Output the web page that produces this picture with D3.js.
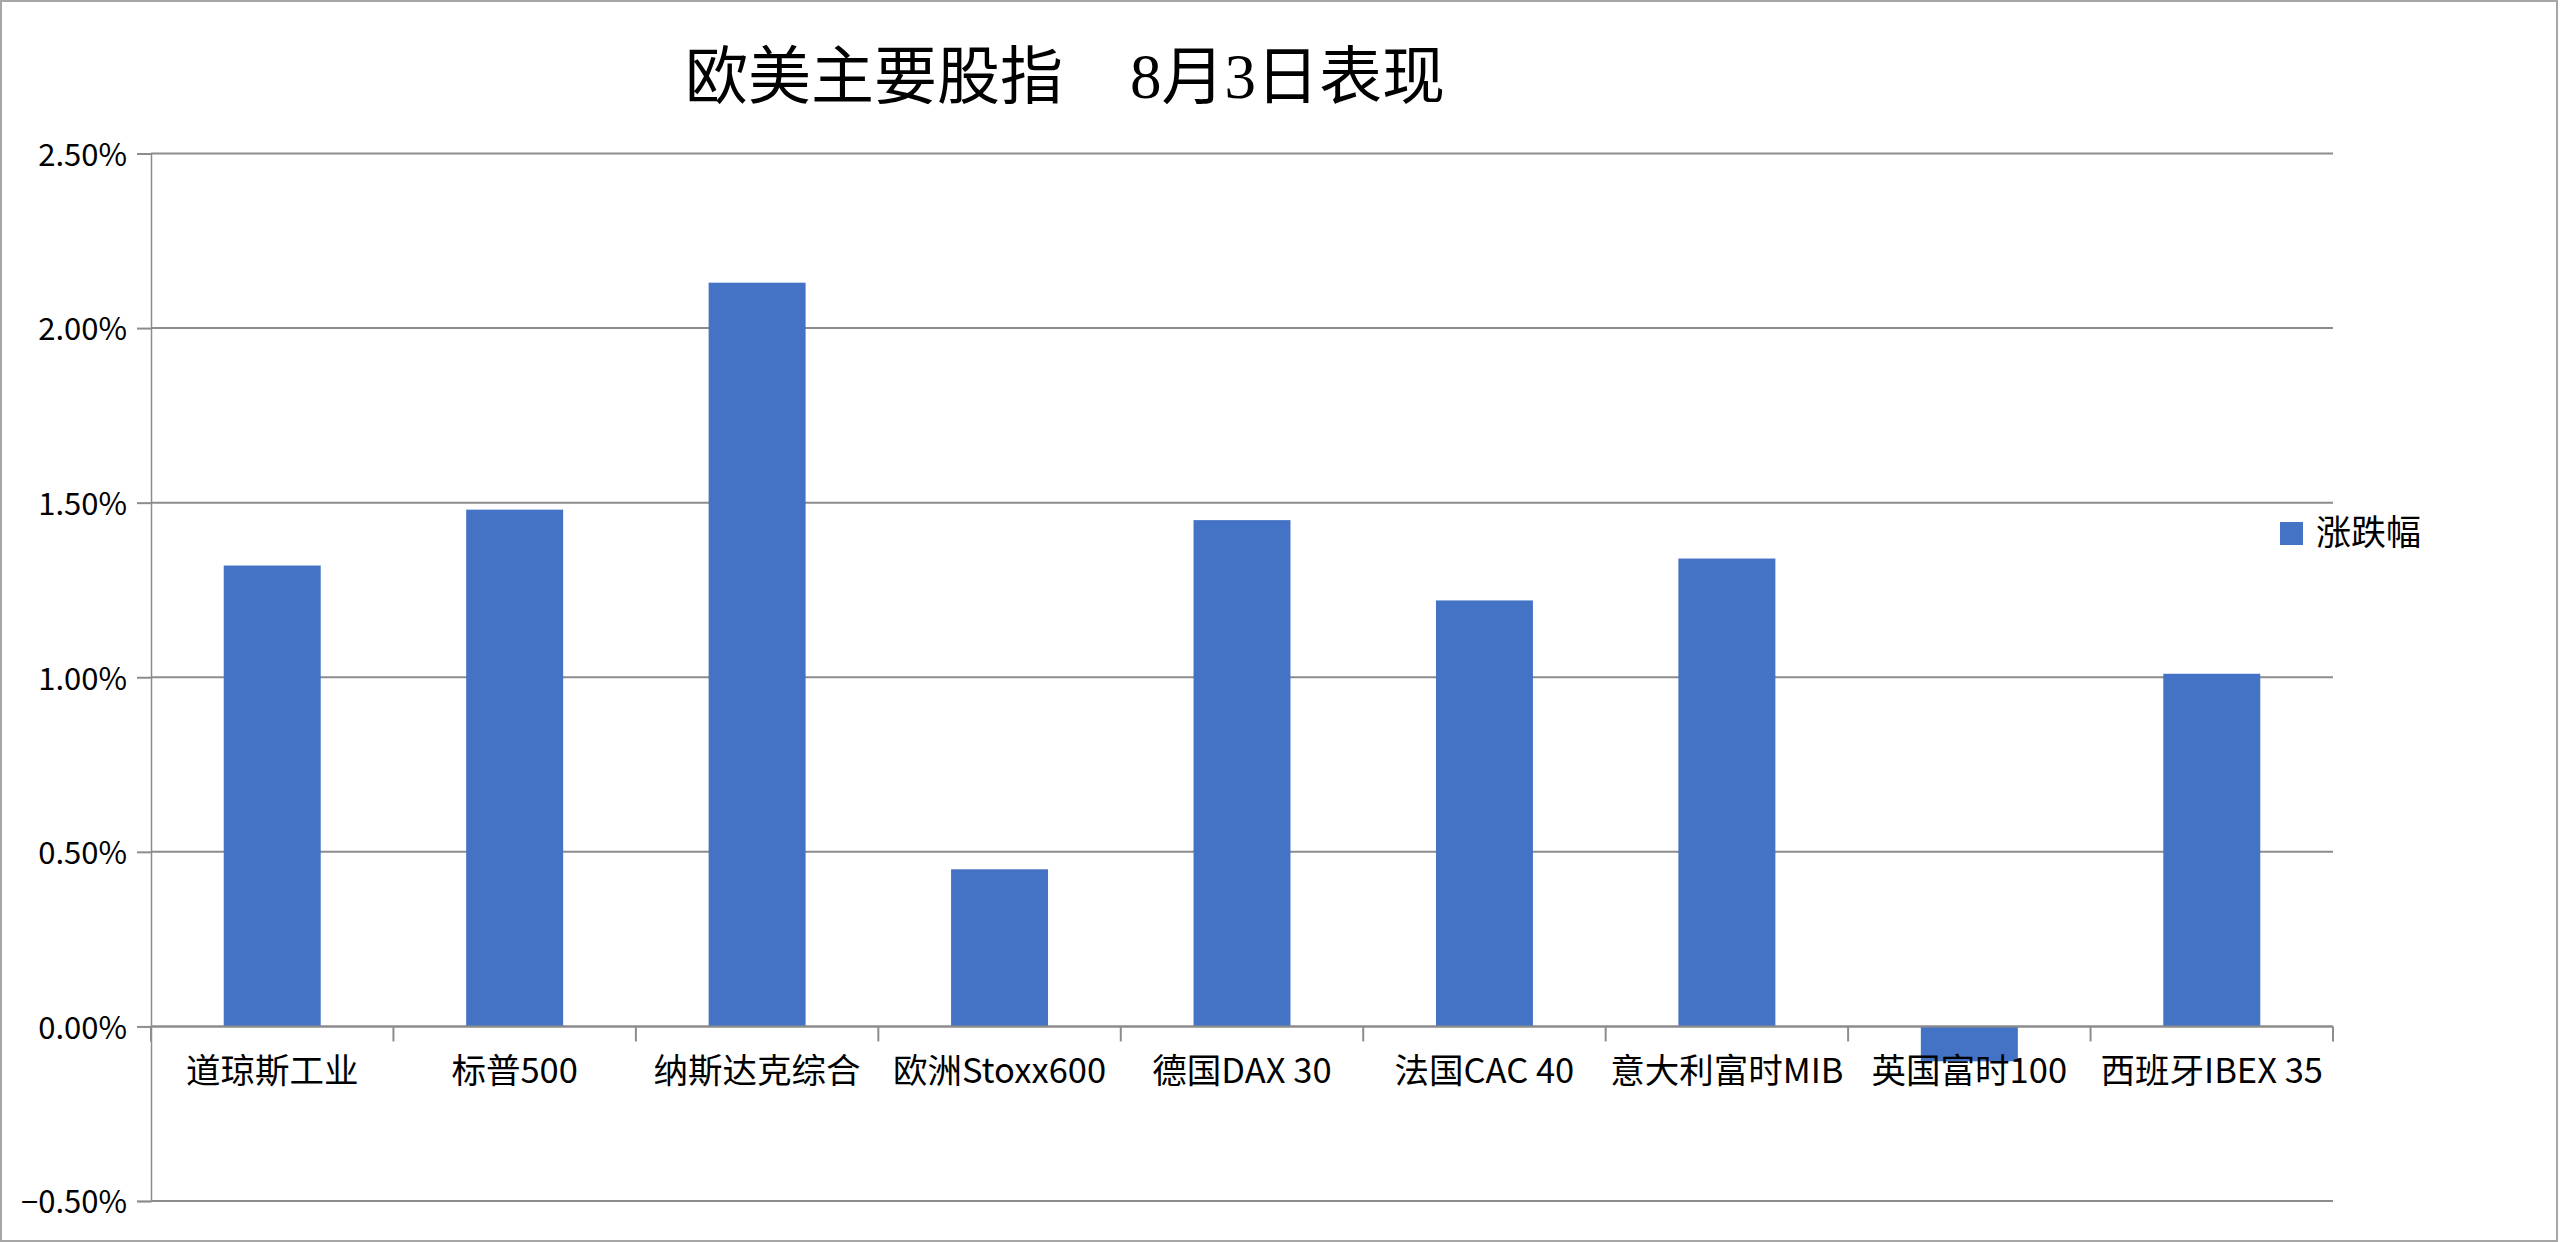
<!DOCTYPE html>
<html>
<head>
<meta charset="utf-8">
<script src="https://cdn.jsdelivr.net/npm/d3@7"></script>
<style>
  html, body { margin: 0; padding: 0; background: #ffffff; }
  svg { display: block; }
</style>
</head>
<body>
<svg id="chart" width="2560" height="1242"></svg>
<script>
// ---- data ----
const categories = ["道琼斯工业", "标普500", "纳斯达克综合", "欧洲Stoxx600", "德国DAX 30", "法国CAC 40", "意大利富时MIB", "英国富时100", "西班牙IBEX 35"];
const changePct = [1.32, 1.48, 2.13, 0.45, 1.45, 1.22, 1.34, -0.10, 1.01]; // percent
const yTicks = [-0.5, 0, 0.5, 1.0, 1.5, 2.0, 2.5];
const seriesName = "涨跌幅";
const titleParts = ["欧美主要股指", "8月3日表现"];

// ---- layout ----
const W = 2560, H = 1242;
const plot = { left: 151, right: 2333, top: 153.5, bottom: 1201 };
const barColor = "#4472C4";
const gridColor = "#8c8c8c";
const labelFont = "'Noto Sans CJK SC', 'Noto Sans', sans-serif";

const svg = d3.select("#chart");

// outer border
svg.append("rect")
  .attr("x", 1).attr("y", 1)
  .attr("width", W - 4).attr("height", H - 2)
  .attr("fill", "#ffffff")
  .attr("stroke", "#a6a6a6").attr("stroke-width", 2);

// scales
const y = d3.scaleLinear().domain([-0.5, 2.5]).range([plot.bottom, plot.top]);
const x = d3.scaleBand().domain(categories)
  .range([plot.left, plot.right])
  .paddingInner(0.6).paddingOuter(0.3);

// title
const title = svg.append("text")
  .attr("y", 98)
  .attr("font-family", "'Liberation Serif', 'Noto Sans CJK SC', serif")
  .attr("font-size", 63)
  .attr("fill", "#000");
title.append("tspan").attr("x", 685).text(titleParts[0]);
title.append("tspan").attr("x", 1130).text(titleParts[1]);

// gridlines
svg.append("g").selectAll("line")
  .data(yTicks)
  .join("line")
  .attr("x1", plot.left).attr("x2", plot.right)
  .attr("y1", d => y(d)).attr("y2", d => y(d))
  .attr("stroke", gridColor).attr("stroke-width", 2);

// y axis
const yAxis = svg.append("g")
  .attr("transform", `translate(${plot.left},0)`)
  .call(d3.axisLeft(y).tickValues(yTicks)
    .tickFormat(d => d3.format(".2f")(d) + "%")
    .tickSize(14).tickPadding(10));
yAxis.select(".domain").attr("stroke", gridColor).attr("stroke-width", 1.5);
yAxis.selectAll(".tick line").attr("stroke", gridColor).attr("stroke-width", 2);
yAxis.selectAll(".tick text")
  .attr("font-family", labelFont).attr("font-size", 31)
  .attr("fill", "#000").attr("dy", "0.38em");

// bars
svg.append("g").selectAll("rect")
  .data(categories.map((c, i) => ({ c, v: changePct[i] })))
  .join("rect")
  .attr("x", d => x(d.c))
  .attr("width", x.bandwidth())
  .attr("y", d => y(Math.max(0, d.v)))
  .attr("height", d => Math.abs(y(d.v) - y(0)))
  .attr("fill", barColor);

// x axis line (zero) and ticks at category boundaries
const y0 = y(0);
svg.append("line")
  .attr("x1", plot.left).attr("x2", plot.right)
  .attr("y1", y0).attr("y2", y0)
  .attr("stroke", gridColor).attr("stroke-width", 2);
const boundaries = d3.range(categories.length + 1).map(i => plot.left + i * x.step());
svg.append("g").selectAll("line")
  .data(boundaries)
  .join("line")
  .attr("x1", d => d).attr("x2", d => d)
  .attr("y1", y0).attr("y2", y0 + 15)
  .attr("stroke", gridColor).attr("stroke-width", 2);

// category labels
svg.append("g").selectAll("text")
  .data(categories)
  .join("text")
  .attr("x", d => x(d) + x.bandwidth() / 2)
  .attr("y", y0 + 57)
  .attr("text-anchor", "middle")
  .attr("font-family", labelFont).attr("font-size", 34.5)
  .attr("fill", "#000")
  .text(d => d);

// legend
const lg = svg.append("g").attr("transform", "translate(2280,522)");
lg.append("rect").attr("width", 23).attr("height", 23).attr("fill", barColor);
lg.append("text")
  .attr("x", 36).attr("y", 23)
  .attr("font-family", labelFont).attr("font-size", 35)
  .attr("fill", "#000")
  .text(seriesName);
</script>
</body>
</html>
